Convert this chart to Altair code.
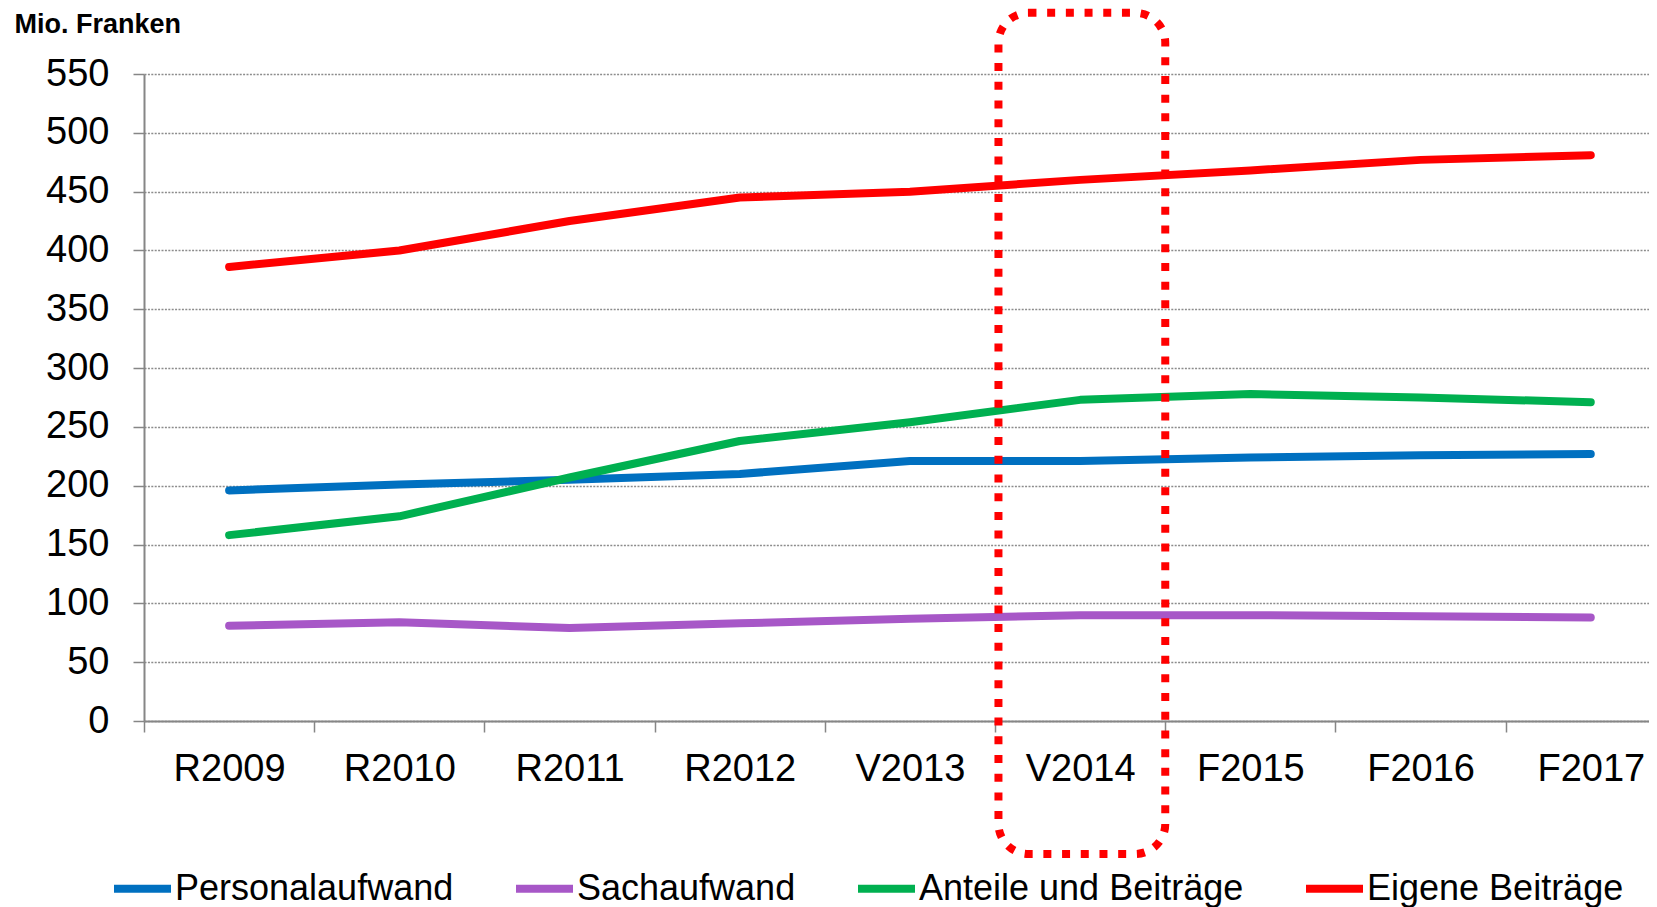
import json
import altair as alt
import pandas as pd

# ---- data ----
categories = ["R2009", "R2010", "R2011", "R2012", "V2013", "V2014", "F2015", "F2016", "F2017"]
series_names = ["Personalaufwand", "Sachaufwand", "Anteile und Beiträge", "Eigene Beiträge"]
personalaufwand = [196, 201, 205, 210, 221, 221, 224, 226, 227]
sachaufwand = [81, 84, 79, 83, 87, 90, 90, 89, 88]
anteile_beitraege = [158, 174, 207, 238, 254, 273, 278, 275, 271]
eigene_beitraege = [386, 400, 425, 445, 450, 460, 468, 477, 481]
series_colors = ["#0070C0", "#A757C7", "#00B050", "#FF0000"]
y_ticks = list(range(0, 551, 50))

# highlight frame around V2014 (category units / value units)
frame_x = [5.02, 6.0]
frame_y = [-113, 602]

rows = []
for name, vals in zip(series_names, [personalaufwand, sachaufwand, anteile_beitraege, eigene_beitraege]):
    for i, (c, v) in enumerate(zip(categories, vals)):
        rows.append({"series": name, "cat": c, "pos": i + 0.5, "value": v})
df = pd.DataFrame(rows)
frame_df = pd.DataFrame({"pos": [frame_x[0]], "pos2": [frame_x[1]],
                         "value": [frame_y[0]], "value2": [frame_y[1]]})

FONT = "Liberation Sans"
GRAY = "#868686"
x_domain = [0, 8.842]
x_values = [i / 2 for i in range(2 * len(categories))]
label_expr = "datum.value % 1 == 0 ? '' : " + json.dumps(categories) + "[floor(datum.value)]"

x_enc = alt.X(
    "pos:Q",
    scale=alt.Scale(domain=x_domain, nice=False, zero=False),
    axis=alt.Axis(
        values=x_values, labelExpr=label_expr, title=None, grid=False,
        labelOverlap=False, labelFlush=False, labelFont=FONT, labelFontSize=38,
        labelColor="black", labelPadding=18, tickSize=11, tickWidth=1.5,
        tickColor=GRAY, domainColor=GRAY, domainWidth=2,
        tickOpacity={"condition": {"test": "datum.value % 1 != 0", "value": 0}, "value": 1},
    ),
)
y_enc = alt.Y(
    "value:Q",
    scale=alt.Scale(domain=[0, 550], nice=False),
    axis=alt.Axis(
        values=y_ticks, title="Mio. Franken", titleAngle=0, titleAlign="left",
        titleBaseline="alphabetic", titleX=-130, titleY=-42, titleFont=FONT,
        titleFontSize=27, titleFontWeight="bold", titleColor="black",
        labelFont=FONT, labelFontSize=38, labelColor="black", labelPadding=24,
        tickSize=11, tickWidth=1.5, tickColor=GRAY, domainColor=GRAY, domainWidth=2,
        grid=True, gridDash=[2, 1.4], gridColor="#8c8c8c", gridWidth=1.6,
    ),
)

lines = alt.Chart(df).mark_line(
    strokeWidth=8, strokeCap="round", strokeJoin="round", clip=True
).encode(
    x=x_enc,
    y=y_enc,
    color=alt.Color(
        "series:N",
        scale=alt.Scale(domain=series_names, range=series_colors),
        legend=alt.Legend(
            title=None, orient="none", direction="horizontal", legendX=-34, legendY=782,
            symbolType="stroke", symbolSize=3249, symbolStrokeWidth=8,
            labelFont=FONT, labelFontSize=36, labelColor="black", labelOffset=0,
            labelLimit=0, columnPadding=46, padding=0,
        ),
    ),
    order="pos:Q",
)

frame = alt.Chart(frame_df).mark_rect(
    filled=False, stroke="#FF0000", strokeWidth=8, strokeDash=[8, 10.7],
    cornerRadius=30, clip=False
).encode(x="pos:Q", x2="pos2", y="value:Q", y2="value2")

chart = alt.layer(lines, frame).properties(
    width=1505, height=647,
    padding={"left": 6, "top": 0, "right": 0, "bottom": 0},
    background="white",
).configure_view(stroke=None)

chart.save("out.html", embed_options={"renderer": "svg", "actions": False})
